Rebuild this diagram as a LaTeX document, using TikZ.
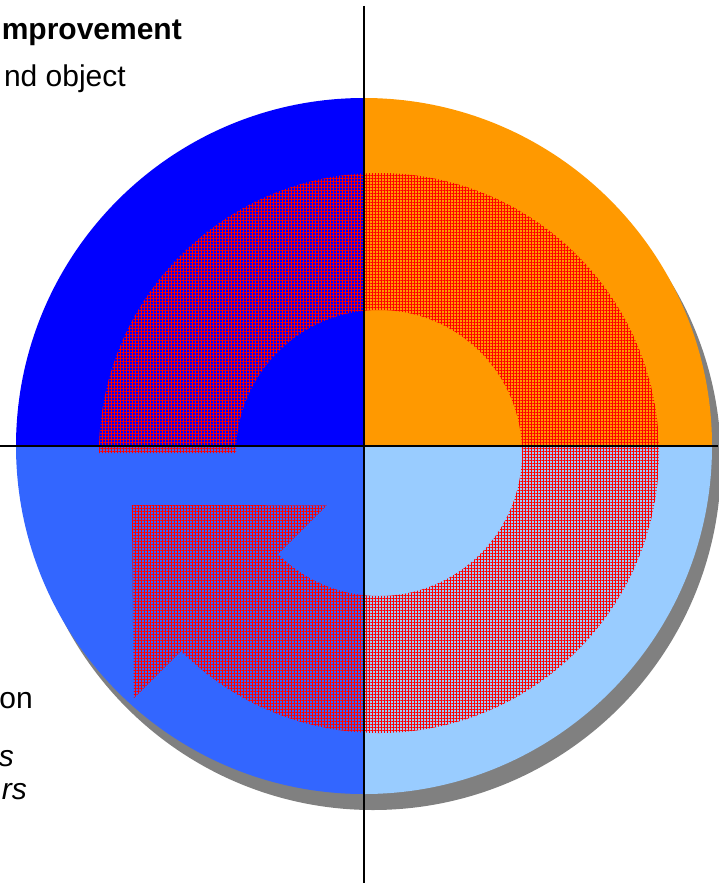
\documentclass[tikz,border=0pt]{standalone}
\usepackage{fontspec}
\setmainfont{Liberation Sans}
\usetikzlibrary{patterns.meta, calc}

\definecolor{quadTL}{RGB}{0,0,255}
\definecolor{quadTR}{RGB}{255,153,0}
\definecolor{quadBR}{RGB}{153,204,255}
\definecolor{quadBL}{RGB}{51,102,255}

\begin{document}
\begin{tikzpicture}[x=1pt, y=-1pt,
    hatched/.style={pattern={Hatch[angle=0, distance=3pt, line width=0.7pt]}, pattern color=red},
    axisline/.style={line width=1.5pt, black},
    sidetext/.style={anchor=base east, inner sep=0pt, font=\fontsize{30}{36}\selectfont}]
    \useasboundingbox (0,0) rectangle (718,883);
    \coordinate (O) at (364,446);
    \coordinate (A) at (379,453);

    \fill[gray] ($(O)+(9,16)$) circle[radius=348];
    \fill[quadTL] (O) -- ++(180:348) arc[start angle=180, end angle=270, radius=348] -- cycle;
    \fill[quadTR] (O) -- ++(270:348) arc[start angle=270, end angle=360, radius=348] -- cycle;
    \fill[quadBR] (O) -- ++(0:348) arc[start angle=0, end angle=90, radius=348] -- cycle;
    \fill[quadBL] (O) -- ++(90:348) arc[start angle=90, end angle=180, radius=348] -- cycle;

    \fill[hatched] ($(A)+(180:280)$) arc[start angle=180, end angle=495, radius=280]
        -- ($(A)+(135:347)$) -- ($(A)+(168.1:252.5)$) -- ($(A)+(135:74)$)
        -- ($(A)+(135:143)$) arc[start angle=495, end angle=180, radius=143] -- cycle;

    \draw[axisline] (364,6) -- (364,883);
    \draw[axisline] (0,446) -- (718,446);

    \node[sidetext, font=\fontsize{30}{36}\selectfont\bfseries] (head) at (182,40) {mprovement};
    \node[sidetext] (sub) at (126,86) {nd object};
    \node[sidetext] (low1) at (33,708) {on};
    \node[sidetext, font=\fontsize{30}{36}\selectfont\itshape] (low2) at (14,766) {s};
    \node[sidetext, font=\fontsize{30}{36}\selectfont\itshape] (low3) at (27,799) {rs};
\end{tikzpicture}
\end{document}
